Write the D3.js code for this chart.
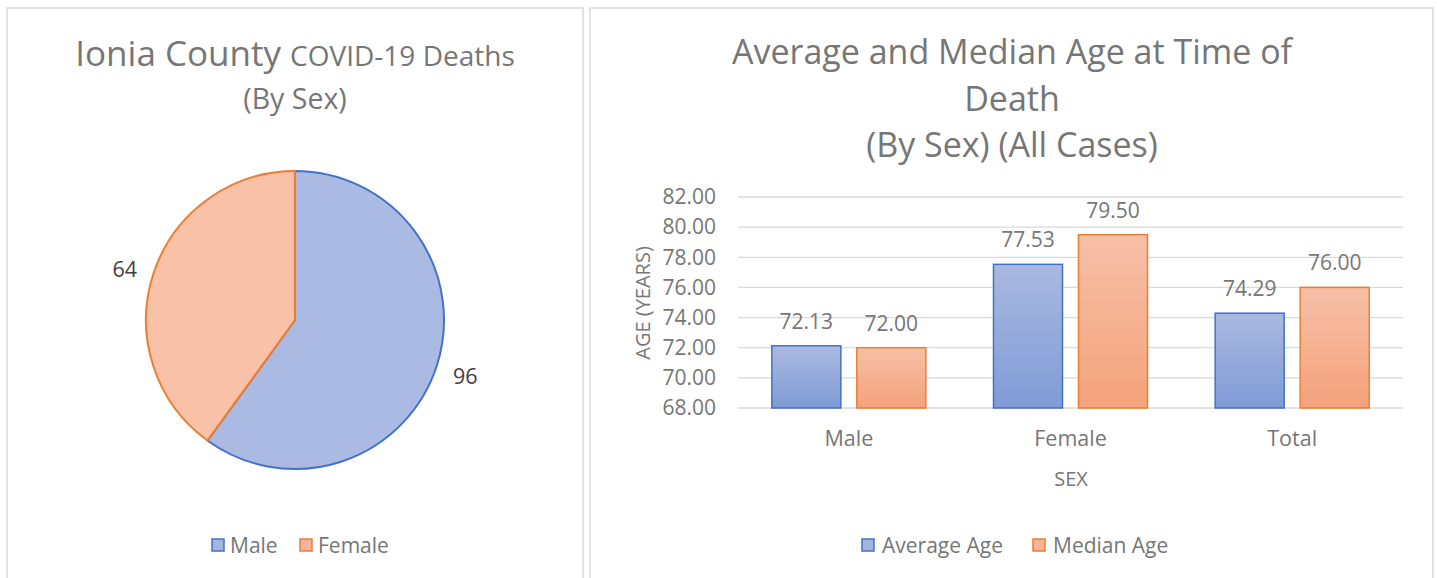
<!DOCTYPE html>
<html><head><meta charset="utf-8">
<script src="https://cdn.jsdelivr.net/npm/d3@7"></script>
<style>html,body{margin:0;padding:0;background:#fff;overflow:hidden}text{font-family:"Open Sans",sans-serif}</style>
</head><body>
<svg id="c" width="1437" height="578"></svg>
<script>
const pieLabels = ["Male", "Female"];
const pieValues = [96, 64];
const categories = ["Male", "Female", "Total"];
const seriesNames = ["Average Age", "Median Age"];
const averageAge = [72.13, 77.53, 74.29];
const medianAge = [72.00, 79.50, 76.00];
const yTicks = [68, 70, 72, 74, 76, 78, 80, 82];

const svg = d3.select("#c");
const txt = "#767676";
const blueStroke = "#4472c4", orangeStroke = "#ed7d31";
const defs = svg.append("defs");
function grad(id, c1, c2) {
  const g = defs.append("linearGradient").attr("id", id).attr("x1", 0).attr("y1", 0).attr("x2", 0).attr("y2", 1);
  g.append("stop").attr("offset", "0%").attr("stop-color", c1);
  g.append("stop").attr("offset", "100%").attr("stop-color", c2);
}
grad("gBlue", "#aab9e1", "#7f9bd6");
grad("gOrange", "#f7c0a7", "#f4a27b");
function ugrad(id, c1, c2, y1, y2) {
  const g = defs.append("linearGradient").attr("id", id).attr("gradientUnits", "userSpaceOnUse")
    .attr("x1", 0).attr("y1", y1).attr("x2", 0).attr("y2", y2);
  g.append("stop").attr("offset", "0%").attr("stop-color", c1);
  g.append("stop").attr("offset", "100%").attr("stop-color", c2);
}

// panels
svg.append("rect").attr("x", 7).attr("y", 8).attr("width", 576).attr("height", 600)
  .attr("fill", "#fff").attr("stroke", "#d9d9d9").attr("stroke-width", 1.5);
svg.append("rect").attr("x", 590).attr("y", 8).attr("width", 843).attr("height", 600)
  .attr("fill", "#fff").attr("stroke", "#d9d9d9").attr("stroke-width", 1.5);

// ---------- Pie ----------
const cx = 295, cy = 320, R = 149;
ugrad("pBlue", "#abbae2", "#7e99d5", cy - R, cy + R);
ugrad("pOrange", "#f8c1a8", "#f4a179", cy - R, cy + R);
const t1 = svg.append("text").attr("x", 295).attr("y", 66).attr("text-anchor", "middle").attr("fill", txt);
t1.append("tspan").attr("font-size", 35).text("Ionia County ");
t1.append("tspan").attr("font-size", 28).text("COVID-19 Deaths");
svg.append("text").attr("x", 295).attr("y", 109).attr("text-anchor", "middle").attr("fill", txt)
  .attr("font-size", 28.5).text("(By Sex)");

const pie = d3.pie().sort(null).value(d => d)(pieValues);
const arc = d3.arc().innerRadius(0).outerRadius(R);
const pg = svg.append("g").attr("transform", `translate(${cx},${cy})`);
const fills = ["url(#pBlue)", "url(#pOrange)"];
const strokes = [blueStroke, orangeStroke];
pg.selectAll("path").data(pie).join("path")
  .attr("d", arc).attr("fill", (d, i) => fills[i]).attr("stroke", (d, i) => strokes[i]).attr("stroke-width", 2)
  .attr("stroke-linejoin", "round");
const labelArc = d3.arc().innerRadius(R + 30).outerRadius(R + 30);
pg.selectAll("text.pl").data(pie).join("text").attr("class", "pl")
  .attr("transform", d => { const [x, y] = labelArc.centroid(d); return `translate(${x},${y + (d.index === 1 ? 4 : 0)})`; })
  .attr("text-anchor", "middle").attr("dominant-baseline", "central")
  .attr("font-size", 21.5).attr("fill", "#404040").text(d => d.data);

// pie legend
const pl = svg.append("g").attr("transform", "translate(212,545)");
const pLegX = [0, 88];
pieLabels.forEach((n, i) => {
  const g = pl.append("g").attr("transform", `translate(${pLegX[i]},0)`);
  g.append("rect").attr("x", 0).attr("y", -6).attr("width", 12).attr("height", 12)
    .attr("fill", i === 0 ? "#a3b4df" : "#f6b598").attr("stroke", strokes[i]).attr("stroke-width", 1.5);
  g.append("text").attr("x", 18).attr("y", 0).attr("dominant-baseline", "central")
    .attr("font-size", 21).attr("fill", txt).text(n);
});

// ---------- Bar ----------
const titleLines = ["Average and Median Age at Time of", "Death", "(By Sex) (All Cases)"];
svg.append("text").attr("x", 1012).attr("text-anchor", "middle").attr("fill", txt).attr("font-size", 34)
  .selectAll("tspan").data(titleLines).join("tspan").attr("x", 1012).attr("y", (d, i) => 64 + i * 46.5).text(d => d);

const x0 = d3.scaleBand().domain(categories).range([738, 1403]).paddingInner(0).paddingOuter(0);
const x1 = d3.scaleBand().domain(seriesNames).range([0, x0.bandwidth()]).paddingInner(0.188).paddingOuter(0.398);
const y = d3.scaleLinear().domain([68, 82]).range([408, 197]);

const grid = svg.append("g");
grid.selectAll("line").data(yTicks).join("line")
  .attr("x1", 738).attr("x2", 1403).attr("y1", d => y(d)).attr("y2", d => y(d))
  .attr("stroke", "#d9d9d9").attr("stroke-width", 1.3);

const yAxis = svg.append("g").attr("transform", "translate(738,0)")
  .call(d3.axisLeft(y).tickValues(yTicks).tickFormat(d3.format(".2f")).tickSize(0).tickPadding(22));
yAxis.select(".domain").remove();
yAxis.selectAll("text").attr("font-size", 21).attr("fill", txt).attr("font-family", "Open Sans");

const series = [averageAge, medianAge];
const bfills = ["url(#gBlue)", "url(#gOrange)"];
const rows = [];
categories.forEach((c, ci) => seriesNames.forEach((s, si) => rows.push({ c, s, si, v: series[si][ci] })));
svg.append("g").selectAll("rect").data(rows).join("rect")
  .attr("x", d => x0(d.c) + x1(d.s)).attr("width", x1.bandwidth())
  .attr("y", d => y(d.v)).attr("height", d => y(68) - y(d.v))
  .attr("fill", d => bfills[d.si]).attr("stroke", d => strokes[d.si]).attr("stroke-width", 1.5);
svg.append("g").selectAll("text").data(rows).join("text")
  .attr("x", d => x0(d.c) + x1(d.s) + x1.bandwidth() / 2).attr("y", d => y(d.v) - 17)
  .attr("text-anchor", "middle").attr("font-size", 21).attr("fill", txt).text(d => d.v.toFixed(2));

const xAxis = svg.append("g").attr("transform", "translate(0,408)")
  .call(d3.axisBottom(x0).tickSize(0).tickPadding(23));
xAxis.select(".domain").remove();
xAxis.selectAll("text").attr("font-size", 21.5).attr("fill", txt).attr("font-family", "Open Sans");

svg.append("text").attr("x", 1071).attr("y", 478).attr("text-anchor", "middle").attr("dominant-baseline", "central")
  .attr("font-size", 20).attr("fill", txt).text("SEX");
svg.append("text").attr("transform", "translate(642,303) rotate(-90)").attr("text-anchor", "middle")
  .attr("dominant-baseline", "central").attr("font-size", 20).attr("fill", txt).text("AGE (YEARS)");

const bl = svg.append("g").attr("transform", "translate(862,545)");
const bLegX = [0, 171];
seriesNames.forEach((n, i) => {
  const g = bl.append("g").attr("transform", `translate(${bLegX[i]},0)`);
  g.append("rect").attr("x", 0).attr("y", -6).attr("width", 12).attr("height", 12)
    .attr("fill", i === 0 ? "#a3b4df" : "#f6b598").attr("stroke", strokes[i]).attr("stroke-width", 1.5);
  g.append("text").attr("x", 20).attr("y", 0).attr("dominant-baseline", "central")
    .attr("font-size", 21).attr("fill", txt).text(n);
});
</script>
</body></html>
